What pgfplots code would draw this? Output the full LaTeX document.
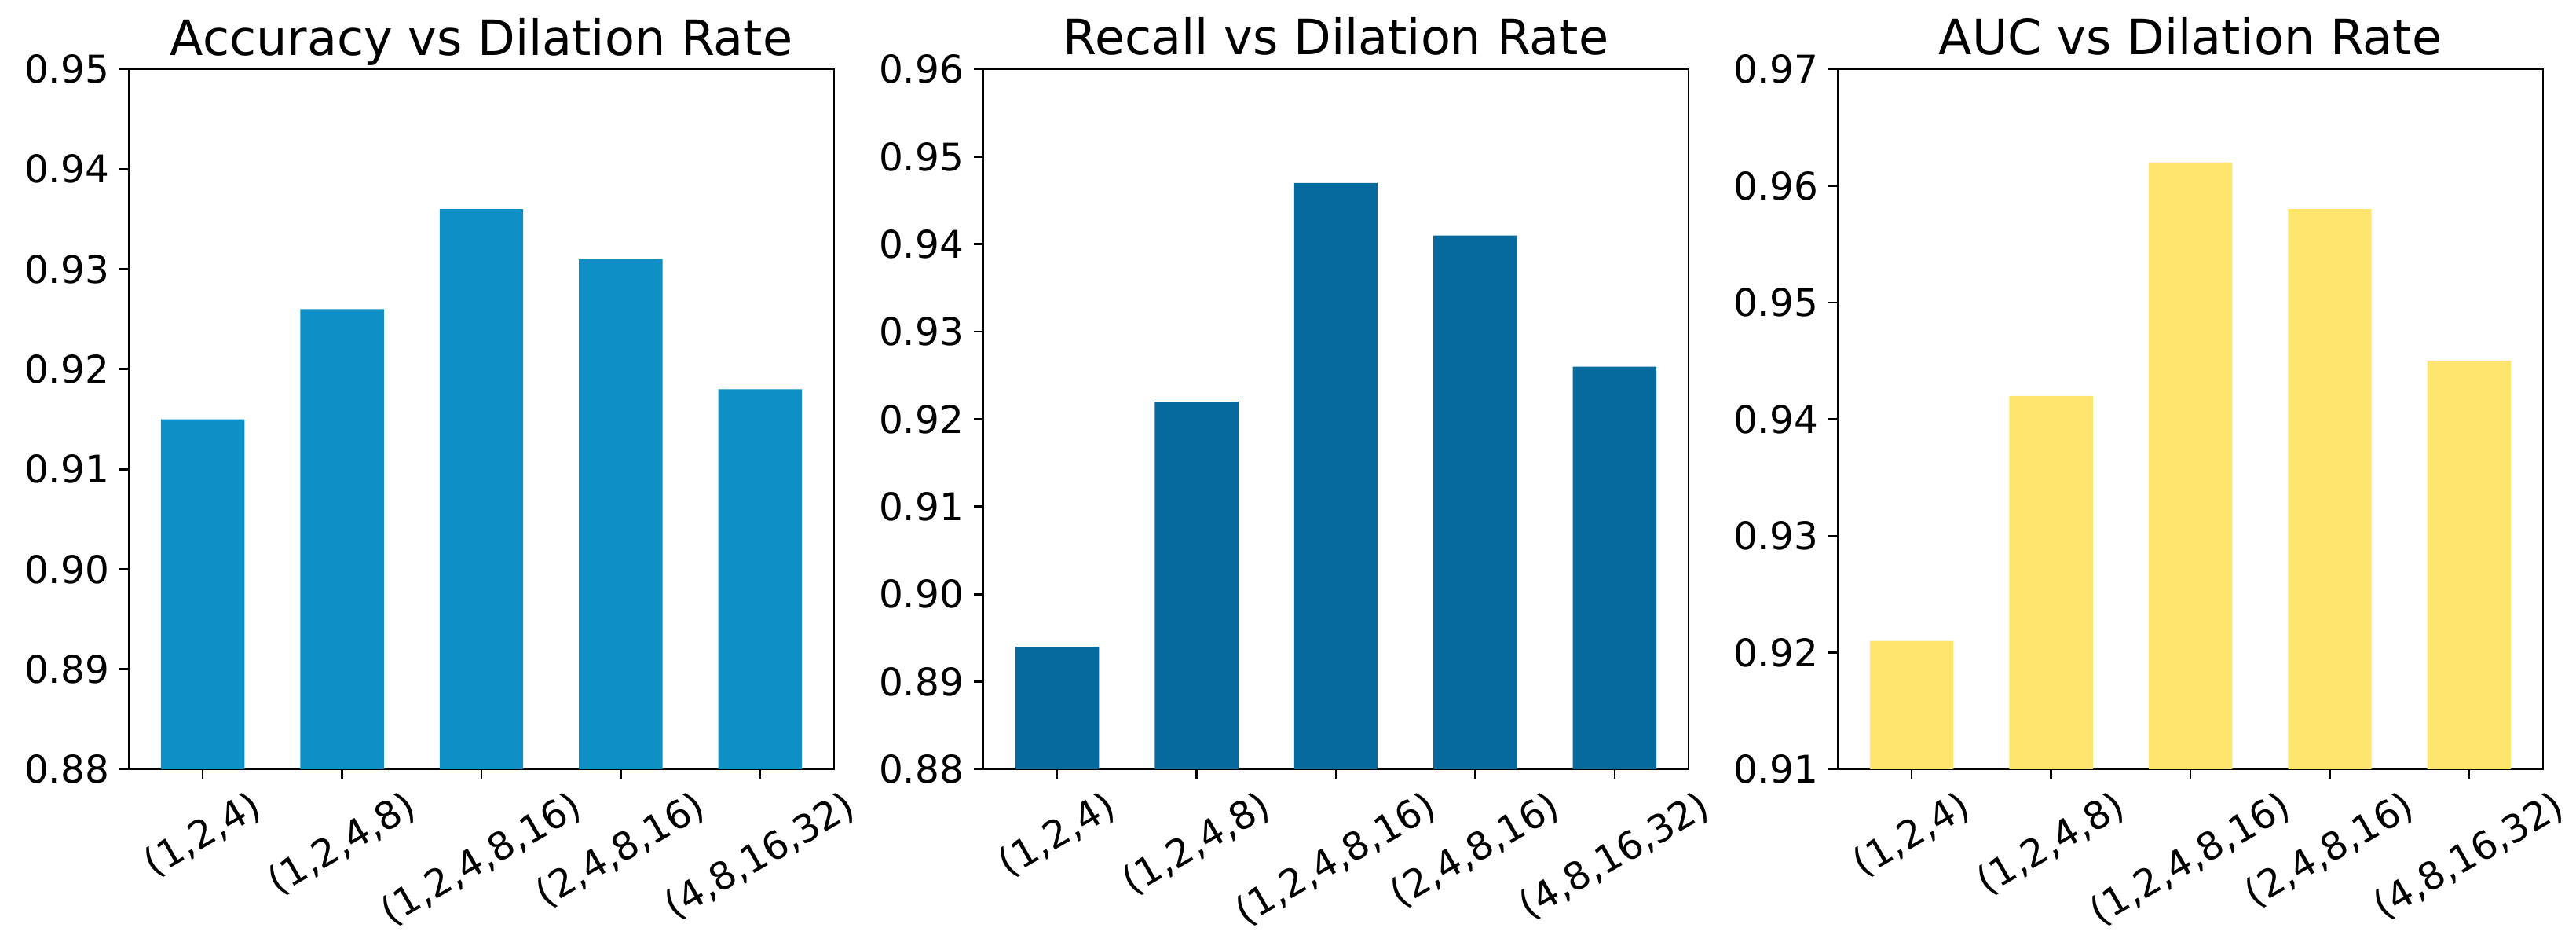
\documentclass[border=0pt]{standalone}
\usepackage{fontspec}
\setmainfont{DejaVu Sans}
\usepackage{graphicx}
\usepackage{pgfplots}
\pgfplotsset{compat=1.18}
\definecolor{cacc}{RGB}{14,143,198}
\definecolor{crec}{RGB}{6,106,158}
\definecolor{cauc}{RGB}{254,229,110}
\newcommand{\tl}[1]{\rotatebox{30}{#1}}
\pgfplotsset{panel/.style={
  width=179.6pt, height=178.2pt, scale only axis,
  anchor=south west,
  ybar, bar width=0.6,
  xmin=-0.53, xmax=4.53,
  xtick={0,1,2,3,4},
  xticklabels={{\tl{(1,2,4)}},{\tl{(1,2,4,8)}},{\tl{(1,2,4,8,16)}},{\tl{(2,4,8,16)}},{\tl{(4,8,16,32)}}},
  xtick pos=left, ytick pos=left,
  tick align=outside,
  major tick length=2.4pt,
  axis line style={line width=0.55pt, black},
  tick style={line width=0.55pt, black},
  ticklabel style={font=\fontsize{9.7}{11}\selectfont},
  xticklabel style={anchor=north, inner sep=0pt, yshift=-2.4pt},
  yticklabel style={anchor=east, inner sep=0pt, xshift=-2.4pt,
    /pgf/number format/.cd, fixed, fixed zerofill, precision=2, assume math mode=true},
  every axis title shift=0pt,
  title style={at={(0.5,1)}, anchor=base, yshift=3.6pt, inner sep=0pt,
    font=\fontsize{12.4}{14}\selectfont},
  every axis plot/.append style={draw=none},
}}
\begin{document}
\begin{tikzpicture}
\useasboundingbox (0,0) rectangle (656pt,240.8pt);
\begin{axis}[panel, at={(32.8pt,45pt)},
  title={Accuracy vs Dilation Rate},
  ymin=0.88, ymax=0.95, ytick={0.88,0.89,0.90,0.91,0.92,0.93,0.94,0.95}]
\addplot[fill=cacc] coordinates {(0,0.915) (1,0.926) (2,0.936) (3,0.931) (4,0.918)};
\end{axis}
\begin{axis}[panel, at={(250.4pt,45pt)},
  title={Recall vs Dilation Rate},
  ymin=0.88, ymax=0.96, ytick={0.88,0.89,0.90,0.91,0.92,0.93,0.94,0.95,0.96}]
\addplot[fill=crec] coordinates {(0,0.894) (1,0.922) (2,0.947) (3,0.941) (4,0.926)};
\end{axis}
\begin{axis}[panel, at={(468pt,45pt)},
  title={AUC vs Dilation Rate},
  ymin=0.91, ymax=0.97, ytick={0.91,0.92,0.93,0.94,0.95,0.96,0.97}]
\addplot[fill=cauc] coordinates {(0,0.921) (1,0.942) (2,0.962) (3,0.958) (4,0.945)};
\end{axis}
\end{tikzpicture}
\end{document}
